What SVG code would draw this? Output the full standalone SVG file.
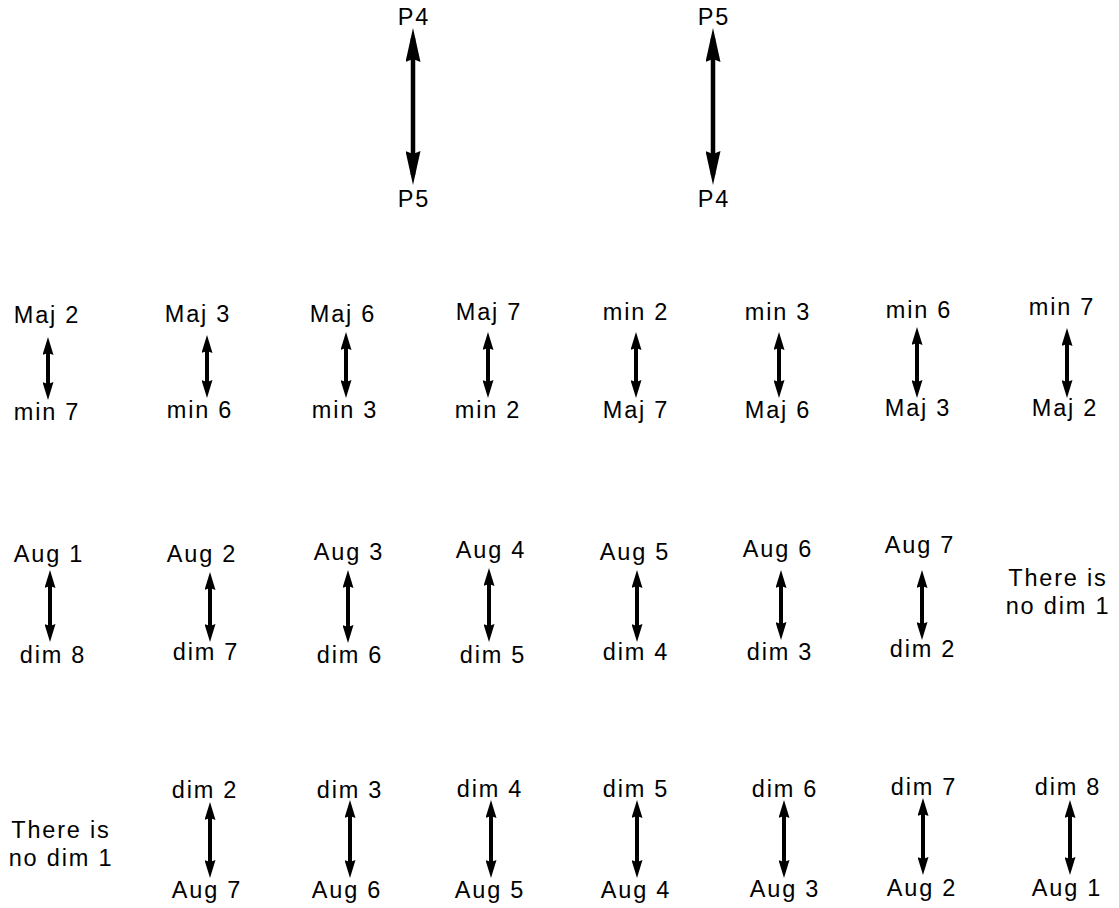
<svg xmlns="http://www.w3.org/2000/svg" width="1119" height="908" viewBox="0 0 1119 908">
<style>
text{font-family:"Liberation Sans",Arial,sans-serif;font-size:23.5px;letter-spacing:1.8px;fill:#000;text-anchor:middle}
.a{stroke:#000;stroke-width:4;fill:none;marker-start:url(#hs);marker-end:url(#hs)}
.A{stroke:#000;stroke-width:4.5;fill:none;marker-start:url(#hl);marker-end:url(#hl)}
</style>
<defs>
<marker id="hs" viewBox="0 0 18 11" refX="10" refY="5.5" markerWidth="18" markerHeight="11" markerUnits="userSpaceOnUse" orient="auto-start-reverse"><path d="M0,0 L18,5.5 L0,11 L2,5.5 z" fill="#000"/></marker>
<marker id="hl" viewBox="0 0 34 15" refX="24" refY="7.5" markerWidth="34" markerHeight="15" markerUnits="userSpaceOnUse" orient="auto-start-reverse"><path d="M0,0 L34,7.5 L0,15 L3,7.5 z" fill="#000"/></marker>
</defs>
<rect width="1119" height="908" fill="#fff"/>
<g id="connectors">
<line class="A" x1="413" y1="38" x2="413" y2="175"/>
<line class="A" x1="713" y1="38" x2="713" y2="175"/>
<line class="a" x1="48" y1="345" x2="48" y2="392"/>
<line class="a" x1="207" y1="343" x2="207" y2="390"/>
<line class="a" x1="346" y1="340" x2="346" y2="390"/>
<line class="a" x1="488" y1="340" x2="488" y2="390"/>
<line class="a" x1="636" y1="340" x2="636" y2="390"/>
<line class="a" x1="779" y1="340" x2="779" y2="390"/>
<line class="a" x1="917" y1="335" x2="917" y2="390"/>
<line class="a" x1="1067" y1="336" x2="1067" y2="390"/>
<line class="a" x1="50" y1="578" x2="50" y2="634"/>
<line class="a" x1="210" y1="580" x2="210" y2="634"/>
<line class="a" x1="348" y1="578" x2="348" y2="635"/>
<line class="a" x1="489" y1="576" x2="489" y2="634"/>
<line class="a" x1="637" y1="578" x2="637" y2="634"/>
<line class="a" x1="781" y1="578" x2="781" y2="632"/>
<line class="a" x1="922" y1="578" x2="922" y2="632"/>
<line class="a" x1="210" y1="810" x2="210" y2="870"/>
<line class="a" x1="350" y1="808" x2="350" y2="870"/>
<line class="a" x1="491" y1="808" x2="491" y2="870"/>
<line class="a" x1="637" y1="808" x2="637" y2="870"/>
<line class="a" x1="784" y1="808" x2="784" y2="870"/>
<line class="a" x1="923" y1="806" x2="923" y2="867"/>
<line class="a" x1="1070" y1="808" x2="1070" y2="867"/>
</g>
<g id="n-top-p4"><text x="414" y="25">P4</text></g>
<g id="n-top-p5b"><text x="414" y="207">P5</text></g>
<g id="n-top-p5"><text x="714" y="25">P5</text></g>
<g id="n-top-p4b"><text x="714" y="207">P4</text></g>

<g id="n-r1-t1"><text x="47" y="323">Maj 2</text></g>
<g id="n-r1-t2"><text x="198" y="322">Maj 3</text></g>
<g id="n-r1-t3"><text x="343" y="322">Maj 6</text></g>
<g id="n-r1-t4"><text x="489" y="320">Maj 7</text></g>
<g id="n-r1-t5"><text x="636" y="320">min 2</text></g>
<g id="n-r1-t6"><text x="778" y="320">min 3</text></g>
<g id="n-r1-t7"><text x="919" y="318">min 6</text></g>
<g id="n-r1-t8"><text x="1062" y="315">min 7</text></g>
<g id="n-r1-b1"><text x="47" y="420">min 7</text></g>
<g id="n-r1-b2"><text x="200" y="418">min 6</text></g>
<g id="n-r1-b3"><text x="345" y="418">min 3</text></g>
<g id="n-r1-b4"><text x="488" y="418">min 2</text></g>
<g id="n-r1-b5"><text x="636" y="418">Maj 7</text></g>
<g id="n-r1-b6"><text x="778" y="418">Maj 6</text></g>
<g id="n-r1-b7"><text x="918" y="416">Maj 3</text></g>
<g id="n-r1-b8"><text x="1065" y="416">Maj 2</text></g>

<g id="n-r2-t1"><text x="49" y="562">Aug 1</text></g>
<g id="n-r2-t2"><text x="202" y="562">Aug 2</text></g>
<g id="n-r2-t3"><text x="349" y="560">Aug 3</text></g>
<g id="n-r2-t4"><text x="491" y="558">Aug 4</text></g>
<g id="n-r2-t5"><text x="635" y="560">Aug 5</text></g>
<g id="n-r2-t6"><text x="778" y="557">Aug 6</text></g>
<g id="n-r2-t7"><text x="920" y="553">Aug 7</text></g>
<g id="n-r2-b1"><text x="53" y="663">dim 8</text></g>
<g id="n-r2-b2"><text x="206" y="660">dim 7</text></g>
<g id="n-r2-b3"><text x="350" y="663">dim 6</text></g>
<g id="n-r2-b4"><text x="493" y="663">dim 5</text></g>
<g id="n-r2-b5"><text x="636" y="660">dim 4</text></g>
<g id="n-r2-b6"><text x="780" y="660">dim 3</text></g>
<g id="n-r2-b7"><text x="923" y="657">dim 2</text></g>
<g id="n-r2-note"><text x="1058" y="586">There is</text><text x="1058" y="614">no dim 1</text></g>

<g id="n-r3-note"><text x="61" y="838">There is</text><text x="61" y="866">no dim 1</text></g>
<g id="n-r3-t2"><text x="205" y="798">dim 2</text></g>
<g id="n-r3-t3"><text x="350" y="798">dim 3</text></g>
<g id="n-r3-t4"><text x="490" y="797">dim 4</text></g>
<g id="n-r3-t5"><text x="636" y="797">dim 5</text></g>
<g id="n-r3-t6"><text x="785" y="797">dim 6</text></g>
<g id="n-r3-t7"><text x="924" y="795">dim 7</text></g>
<g id="n-r3-t8"><text x="1068" y="795">dim 8</text></g>
<g id="n-r3-b2"><text x="207" y="898">Aug 7</text></g>
<g id="n-r3-b3"><text x="347" y="898">Aug 6</text></g>
<g id="n-r3-b4"><text x="490" y="898">Aug 5</text></g>
<g id="n-r3-b5"><text x="636" y="898">Aug 4</text></g>
<g id="n-r3-b6"><text x="785" y="897">Aug 3</text></g>
<g id="n-r3-b7"><text x="922" y="896">Aug 2</text></g>
<g id="n-r3-b8"><text x="1067" y="896">Aug 1</text></g>
</svg>
